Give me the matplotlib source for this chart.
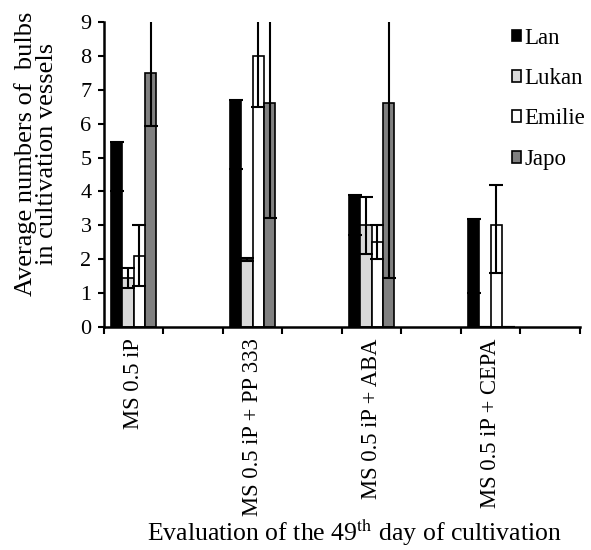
import matplotlib
matplotlib.use("Agg")
import matplotlib.pyplot as plt
import numpy as np

plt.rcParams['font.family'] = ['Liberation Serif', 'DejaVu Serif']
plt.rcParams['mathtext.fontset'] = 'stix'

categories = ["MS 0.5 iP", "", "MS 0.5 iP + PP 333", "", "MS 0.5 iP + ABA", "", "MS 0.5 iP + CEPA", ""]
series = ["Lan", "Lukan", "Emilie", "Japo"]
colors = ["#000000", "#d9d9d9", "#ffffff", "#808080"]

lan = [5.45, None, 6.70, None, 3.89, None, 3.20, None]
lukan = [1.45, None, 2.00, None, 3.00, None, 0.0, None]
emilie = [2.10, None, 8.00, None, 2.50, None, 3.00, None]
japo = [7.50, None, 6.62, None, 6.62, None, 0.0, None]

lan_lo = [1.45, 0, 2.04, 0, 1.18, 0, 2.20, 0]
lan_hi = [0, 0, 0, 0, 0, 0, 0, 0]
lukan_lo = [0.30, 0, 0.05, 0, 0.85, 0, 0, 0]
lukan_hi = [0.30, 0, 0.05, 0, 0.85, 0, 0, 0]
emilie_lo = [0.90, 0, 1.52, 0, 0.50, 0, 1.42, 0]
emilie_hi = [0.90, 0, 1.52, 0, 0.50, 0, 1.20, 0]
japo_lo = [1.56, 0, 3.40, 0, 5.18, 0, 0, 0]
japo_hi = [1.56, 0, 3.40, 0, 5.18, 0, 0, 0]

yticks = list(range(0, 10))

values = [lan, lukan, emilie, japo]
los = [lan_lo, lukan_lo, emilie_lo, japo_lo]
his = [lan_hi, lukan_hi, emilie_hi, japo_hi]

fig = plt.figure(figsize=(5.91, 5.5), dpi=100)
ax = fig.add_axes([0.176, 0.4055, 0.805, 0.5545])

n = len(categories)
x = np.arange(n)
w = 0.19
offsets = (np.arange(4) - 1.5) * w

for i in range(4):
    idx = [j for j in range(n) if values[i][j] is not None]
    xs = x[idx] + offsets[i]
    vs = np.array([values[i][j] for j in idx])
    ax.bar(xs, vs, width=w, color=colors[i], edgecolor='black', linewidth=1.2,
           label=series[i], zorder=2)
    lo = np.array([los[i][j] for j in idx])
    hi = np.array([his[i][j] for j in idx])
    ax.errorbar(xs, vs, yerr=[lo, hi], fmt='none', ecolor='black',
                elinewidth=1.5, capsize=5, capthick=1.5, zorder=3)

ax.set_xlim(-0.5, n - 0.5)
ax.set_ylim(0, 9)
ax.set_yticks(yticks)
ax.set_yticklabels([str(t) for t in yticks], fontsize=16)
ax.set_xticks(x)
ax.set_xticklabels(categories, rotation=90, fontsize=16.3, va='top')
ax.set_xticks(np.arange(n + 1) - 0.5, minor=True)
ax.tick_params(axis='x', which='major', length=0, pad=8)
ax.tick_params(axis='x', which='minor', length=5, width=1.5, direction='out')
ax.tick_params(axis='y', length=4, width=1.5, direction='out', pad=5)

for s in ['top', 'right']:
    ax.spines[s].set_visible(False)
for s in ['left', 'bottom']:
    ax.spines[s].set_linewidth(1.8)

fig.text(36 / 591, 1 - 154 / 550, "Average numbers of  bulbs\nin cultivation vessels",
         rotation=90, ha='center', va='center', fontsize=19, linespacing=0.95,
         multialignment='center')
fig.text(0.60, 1 - 541 / 550, r"Evaluation of the 49$^{\rm th}$ day of cultivation",
         ha='center', va='baseline', fontsize=18.5)

handles, labels = ax.get_legend_handles_labels()
leg = fig.legend(handles, labels, loc='upper left', bbox_to_anchor=(0.866, 0.95),
                 frameon=False, fontsize=16.5, handlelength=0.4, handleheight=0.4,
                 handletextpad=0.15, labelspacing=0.85, borderpad=0, borderaxespad=0)

fig.savefig("out.png", dpi=100)
